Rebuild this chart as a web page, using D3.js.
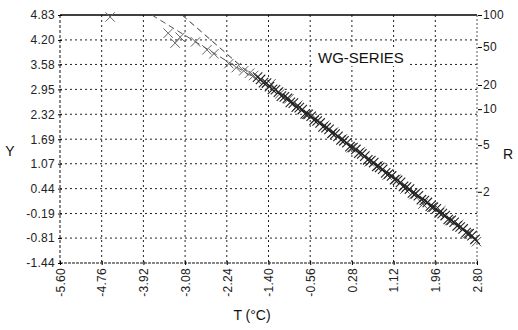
<!DOCTYPE html>
<html><head><meta charset="utf-8">
<script src="https://cdn.jsdelivr.net/npm/d3@7"></script>
<style>body{margin:0;background:#fff}svg{display:block}text{font-family:"Liberation Sans",Arial,sans-serif}</style>
</head><body><svg id="c" width="518" height="330"></svg>
<script>
const xTicks = [-5.60,-4.76,-3.92,-3.08,-2.24,-1.40,-0.56,0.28,1.12,1.96,2.80];
const yTicks = [4.83,4.20,3.58,2.95,2.32,1.69,1.07,0.44,-0.19,-0.81,-1.44];
const rTickLabels = ["100","50","20","10","5","2"];
const rTickY = [4.83,4.02,3.06,2.45,1.54,0.36];
const bandT = [-1.62,-1.56,-1.50,-1.44,-1.38,-1.32,-1.26,-1.20,-1.14,-1.08,-1.02,-0.96,-0.90,-0.84,-0.78,-0.72,-0.66,-0.60,-0.54,-0.48,-0.42,-0.36,-0.30,-0.24,-0.18,-0.12,-0.06,0.00,0.06,0.12,0.18,0.24,0.30,0.36,0.42,0.48,0.54,0.60,0.66,0.72,0.78,0.84,0.90,0.96,1.02,1.08,1.14,1.20,1.26,1.32,1.38,1.44,1.50,1.56,1.62,1.68,1.74,1.80,1.86,1.92,1.98,2.04,2.10,2.16,2.22,2.28,2.34,2.40,2.46,2.52,2.58,2.64,2.70,2.76];
const bandY = [3.26,3.20,3.12,3.11,3.02,2.95,2.94,2.88,2.78,2.76,2.72,2.62,2.60,2.50,2.49,2.44,2.33,2.32,2.27,2.17,2.15,2.10,2.00,1.98,1.94,1.84,1.82,1.76,1.67,1.65,1.60,1.50,1.48,1.43,1.34,1.32,1.26,1.17,1.15,1.10,1.00,0.98,0.93,0.84,0.81,0.76,0.67,0.65,0.60,0.50,0.48,0.43,0.33,0.31,0.26,0.16,0.14,0.09,0.00,-0.03,-0.07,-0.17,-0.19,-0.24,-0.34,-0.36,-0.41,-0.50,-0.53,-0.58,-0.67,-0.70,-0.75,-0.84];
const band2T = [-1.35,-1.17,-0.99,-0.81,-0.63,-0.45,-0.27,-0.09,0.09,0.27,0.45,0.63,0.81,0.99,1.17,1.35,1.53,1.71,1.89,2.07,2.25,2.43,2.61,2.79];
const band2Y = [3.09,2.84,2.71,2.55,2.32,2.22,2.04,1.87,1.70,1.47,1.37,1.12,1.02,0.78,0.68,0.43,0.29,0.05,-0.03,-0.12,-0.37,-0.47,-0.70,-0.90];
const sparseT = [-4.59,-3.42,-3.28,-3.18,-2.87,-2.64,-2.50,-2.20,-2.05,-1.90,-1.78,-1.70];
const sparseY = [4.78,4.37,4.12,4.27,4.15,3.95,3.85,3.60,3.50,3.42,3.36,3.30];
const lineAT = [-3.75,-1.40];
const lineAY = [4.83,3.02];
const lineBT = [-3.14,-1.50];
const lineBY = [4.83,3.04];

const svg = d3.select("#c");
const L=60,R=477,T=15,B=263;
const x = d3.scaleLinear().domain([-5.60,2.80]).range([L,R]);
const y = d3.scaleLinear().domain([-1.44,4.83]).range([B,T]);

// grid
const grid = svg.append("g").attr("stroke","#222").attr("stroke-width",1).attr("stroke-dasharray","2,3").attr("fill","none");
xTicks.slice(1,-1).forEach(v=>grid.append("line").attr("x1",x(v)).attr("x2",x(v)).attr("y1",T).attr("y2",B));
yTicks.slice(1,-1).forEach(v=>grid.append("line").attr("x1",L).attr("x2",R).attr("y1",y(v)).attr("y2",y(v)));

// frame
svg.append("line").attr("x1",L).attr("x2",R).attr("y1",T).attr("y2",T).attr("stroke","#000").attr("stroke-width",1.6);
svg.append("line").attr("x1",L).attr("x2",R).attr("y1",B).attr("y2",B).attr("stroke","#111").attr("stroke-dasharray","3,1");
svg.append("line").attr("x1",L).attr("x2",L).attr("y1",T).attr("y2",B).attr("stroke","#111").attr("stroke-dasharray","3,2");
svg.append("line").attr("x1",R).attr("x2",R).attr("y1",T).attr("y2",B).attr("stroke","#555").attr("stroke-dasharray","2,2");

// axes
const yAxis = d3.axisLeft(y).tickValues(yTicks).tickFormat(d=>d.toFixed(2)).tickSize(4).tickPadding(3);
const gy = svg.append("g").attr("transform",`translate(${L+2},0)`).call(yAxis);
gy.select(".domain").remove();
gy.selectAll("text").attr("font-size",12).attr("fill","#222").attr("letter-spacing","0.3");
gy.selectAll("line").attr("stroke","#000");

const xAxis = d3.axisBottom(x).tickValues(xTicks).tickFormat(d=>d.toFixed(2)).tickSize(4);
const gx = svg.append("g").attr("transform",`translate(0,${B-2})`).call(xAxis);
gx.select(".domain").remove();
gx.selectAll("line").attr("stroke","#000");
gx.selectAll("text").attr("font-size",12).attr("fill","#222").attr("letter-spacing","0.3")
  .attr("transform","rotate(-90)").attr("text-anchor","end").attr("x",-7).attr("y",0).attr("dy","0.35em");

const rAxis = d3.axisRight(y).tickValues(rTickY).tickFormat((d,i)=>rTickLabels[i]).tickSize(4).tickPadding(1);
const gr = svg.append("g").attr("transform",`translate(${R+1},0)`).call(rAxis);
gr.select(".domain").remove();
gr.selectAll("line").attr("stroke","#000");
gr.selectAll("text").attr("font-size",12).attr("fill","#222").attr("letter-spacing","0.3");

// titles
svg.append("text").attr("x",10).attr("y",156).attr("font-size",14).attr("text-anchor","middle").attr("fill","#111").text("Y");
svg.append("text").attr("x",508).attr("y",159).attr("font-size",14).attr("text-anchor","middle").attr("fill","#111").text("R");
svg.append("text").attr("x",252).attr("y",320).attr("font-size",14).attr("text-anchor","middle").attr("fill","#111").text("T (°C)");

// legend label
svg.append("rect").attr("x",315).attr("y",48).attr("width",95).attr("height",18).attr("fill","#fff");
svg.append("text").attr("x",318).attr("y",63).attr("font-size",15).attr("fill","#111").text("WG-SERIES");

// dashed lines
const ln = d3.line().x(d=>x(d[0])).y(d=>y(d[1]));
svg.append("path").attr("d",ln(d3.zip(lineAT,lineAY))).attr("stroke","#555").attr("stroke-dasharray","6,4").attr("fill","none");
svg.append("path").attr("d",ln(d3.zip(lineBT,lineBY))).attr("stroke","#333").attr("stroke-dasharray","6,4").attr("fill","none");

// markers
const cross = d3.symbol().type(d3.symbolX).size(60);
svg.append("g").selectAll("path").data(d3.zip(sparseT,sparseY)).join("path")
  .attr("d",cross).attr("transform",d=>`translate(${x(d[0])},${y(d[1])})`).attr("stroke","#666").attr("fill","none").attr("stroke-width",1);
svg.append("g").selectAll("path").data(d3.zip(band2T,band2Y)).join("path")
  .attr("d",cross).attr("transform",d=>`translate(${x(d[0])},${y(d[1])})`).attr("stroke","#555").attr("fill","none").attr("stroke-width",1);
svg.append("g").selectAll("path").data(d3.zip(bandT,bandY)).join("path")
  .attr("d",cross).attr("transform",d=>`translate(${x(d[0])},${y(d[1])})`).attr("stroke","#222").attr("fill","none").attr("stroke-width",1.1);
</script></body></html>
